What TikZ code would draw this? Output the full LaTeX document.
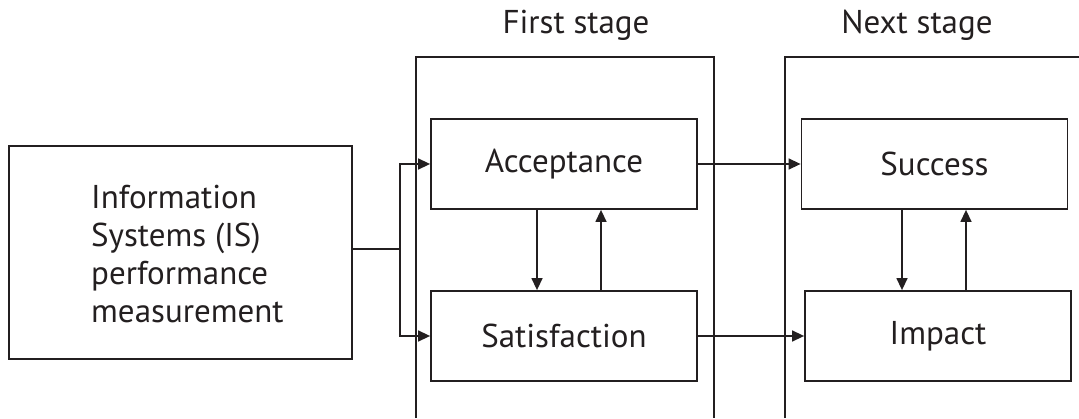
\documentclass[tikz,border=0pt]{standalone}
\usepackage{fontspec}
\setmainfont{PT Sans}
\usetikzlibrary{arrows.meta}
\definecolor{ink}{HTML}{231F20}
\begin{document}
\begin{tikzpicture}[x=1pt,y=1pt,
  box/.style={draw=ink,line width=1.8pt,minimum width=266pt,minimum height=90pt,inner sep=0pt,font=\fontsize{33}{38}\selectfont,text=ink},
  frame/.style={draw=ink,line width=1.4pt},
  conn/.style={draw=ink,line width=1.4pt},
  arr/.style={conn,-{Triangle[length=12pt,width=11pt]}},
  lbl/.style={font=\fontsize{33}{38}\selectfont,text=ink,inner sep=0pt}]
\useasboundingbox (0,0) rectangle (1079,418);
% stage frames
\draw[frame] (416,0) -- (416,361) -- (714,361) -- (714,0);
\draw[frame] (785,0) -- (785,361) -- (1082,361);
\node[lbl,anchor=base] (l1) at (576,384) {First stage};
\node[lbl,anchor=base] (l2) at (917,384) {Next stage};
% left box
\node[draw=ink,line width=1.8pt,minimum width=343pt,minimum height=213pt,inner sep=0pt] (is) at (180.5,165.5) {};
\node[lbl,anchor=west,align=left] (istext) at (91,164) {Information\\Systems (IS)\\performance\\measurement};
% inner boxes
\node[box] (acc) at (564,254) {Acceptance};
\node[box] (sat) at (564,82) {Satisfaction};
\node[box] (suc) at (934.5,254) {Success};
\node[box] (imp) at (938,82) {Impact};
% fork
\coordinate (fork) at (400,169);
\draw[conn] (is.east |- fork) -- (fork);
\draw[arr] (fork) |- (acc.west);
\draw[arr] (fork) |- (sat.west);
% first stage verticals
\draw[arr] (acc.south -| 537,0) -- (sat.north -| 537,0);
\draw[arr] (sat.north -| 601,0) -- (acc.south -| 601,0);
% next stage verticals
\draw[arr] (suc.south -| 902,0) -- (imp.north -| 902,0);
\draw[arr] (imp.north -| 966,0) -- (suc.south -| 966,0);
% horizontals
\draw[arr] (acc.east) -- (suc.west);
\draw[arr] (sat.east) -- (imp.west);
\end{tikzpicture}
\end{document}
